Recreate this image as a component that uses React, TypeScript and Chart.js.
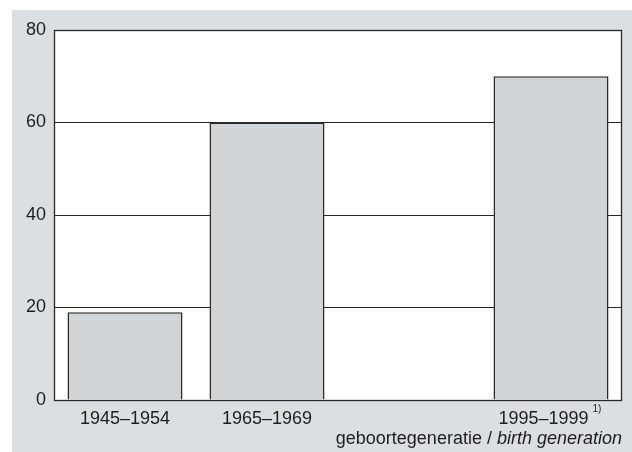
import React, { useEffect, useRef } from "react";
import { Chart, registerables } from "chart.js";

Chart.register(...registerables);

const categories = ["1945–1954", "1965–1969", "", "1995–1999   "];
const values: (number | null)[] = [19, 60, null, 70];
const footnoteIndex = 3;
const footnoteText = "1)";
const axisTitleNormal = "geboortegeneratie / ";
const axisTitleItalic = "birth generation";
const yMin = 0;
const yMax = 80;
const yStep = 20;

const FONT = "'Liberation Sans', Arial, Helvetica, sans-serif";
const TEXT = "#1e1e1e";
const LINE = "#262626";

export default function App() {
  const ref = useRef<HTMLCanvasElement | null>(null);

  useEffect(() => {
    const canvas = ref.current;
    if (!canvas) return;

    const decor = {
      id: "decor",
      beforeDraw(chart: any) {
        const { ctx, chartArea } = chart;
        ctx.save();
        ctx.fillStyle = "#dddee0";
        ctx.fillRect(12, 10, chart.width - 12, chart.height - 10);
        ctx.fillStyle = "#ffffff";
        ctx.fillRect(chartArea.left, chartArea.top, chartArea.right - chartArea.left, chartArea.bottom - chartArea.top);
        ctx.restore();
      },
      afterDraw(chart: any) {
        const { ctx, chartArea, scales } = chart;
        ctx.save();
        ctx.strokeStyle = LINE;
        ctx.lineWidth = 1.3;
        ctx.strokeRect(chartArea.left + 0.5, chartArea.top + 0.5, chartArea.right - chartArea.left - 1, chartArea.bottom - chartArea.top);
        // footnote superscript
        ctx.font = `18px ${FONT}`;
        const label = categories[footnoteIndex];
        const w = ctx.measureText(label.trimEnd()).width;
        const full = ctx.measureText(label).width;
        const cx = scales.x.getPixelForValue(footnoteIndex);
        const textRight = cx - full / 2 + w;
        ctx.font = `10px ${FONT}`;
        ctx.fillStyle = TEXT;
        ctx.textBaseline = "alphabetic";
        ctx.textAlign = "left";
        ctx.fillText(footnoteText, textRight + 4, 412);
        // axis title
        ctx.font = `italic 18px ${FONT}`;
        const iw = ctx.measureText(axisTitleItalic).width;
        const right = chartArea.right;
        ctx.textAlign = "right";
        ctx.fillText(axisTitleItalic, right, 444);
        ctx.font = `18px ${FONT}`;
        ctx.fillText(axisTitleNormal, right - iw, 444);
        ctx.restore();
      },
    };

    const chart = new Chart(canvas, {
      type: "bar",
      data: {
        labels: categories,
        datasets: [
          {
            data: values as any,
            backgroundColor: "#d2d3d5",
            borderColor: "#2a2a2a",
            borderWidth: 1.5,
            barPercentage: 0.81,
            categoryPercentage: 1,
          },
        ],
      },
      options: {
        responsive: false,
        animation: false,
        devicePixelRatio: 1,
        layout: { padding: { top: 30, right: 10, left: 0, bottom: 0 } },
        plugins: { legend: { display: false }, tooltip: { enabled: false }, title: { display: false } },
        scales: {
          x: {
            grid: { display: false, drawTicks: false },
            border: { display: false },
            ticks: {
              font: { family: FONT, size: 18 },
              color: TEXT,
              padding: 8,
              maxRotation: 0,
              autoSkip: false,
            },
            afterFit(s: any) {
              s.height = 52;
            },
          },
          y: {
            min: yMin,
            max: yMax,
            grid: { color: LINE, lineWidth: 1, drawTicks: false },
            border: { display: false },
            ticks: {
              stepSize: yStep,
              font: { family: FONT, size: 18 },
              color: TEXT,
              padding: 8,
            },
            afterFit(s: any) {
              s.width = 54;
            },
          },
        },
      },
      plugins: [decor],
    });

    return () => chart.destroy();
  }, []);

  return (
    <div style={{ position: "fixed", left: 0, top: 0, width: 632, height: 452, background: "#ffffff" }}>
      <canvas ref={ref} width={632} height={452} style={{ display: "block" }} />
    </div>
  );
}
